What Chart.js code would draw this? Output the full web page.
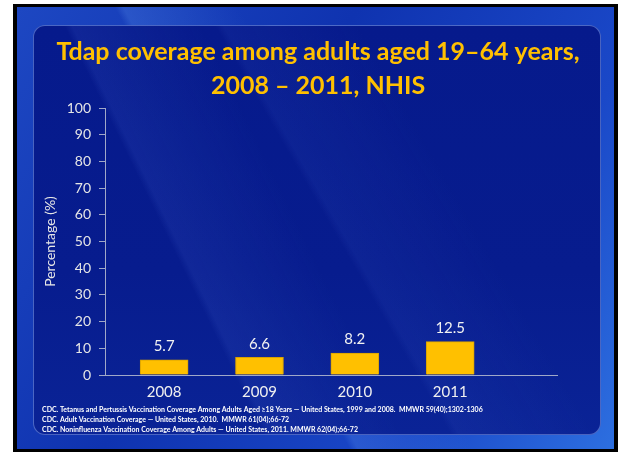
<!DOCTYPE html>
<html>
<head>
<meta charset="utf-8">
<script src="https://cdn.jsdelivr.net/npm/chart.js@4.4.1/dist/chart.umd.min.js"></script>
<style>
  html, body { margin: 0; padding: 0; background: #fff; }
  body { width: 620px; height: 454px; position: relative; overflow: hidden; }
  #frame {
    position: absolute; left: 13px; top: 4px; width: 605px; height: 448px;
    background: #000;
  }
  #slide {
    position: absolute; left: 17px; top: 7px; width: 597px; height: 442px;
    background:
      linear-gradient(62deg, rgba(90,160,255,0.0) 40%, rgba(120,180,255,0.18) 41%, rgba(120,180,255,0.0) 55%),
      linear-gradient(120deg, #1d47c2 0%, #0f33b0 40%, #1a48c8 75%, #2d6fe0 100%);
  }
  #panel {
    position: absolute; left: 33px; top: 25px; width: 568px; height: 410px;
    border-radius: 12px;
    border: 1px solid rgba(130,160,235,0.55);
    box-sizing: border-box;
    background:
      linear-gradient(64deg, rgba(0,0,0,0) 30%, rgba(60,90,200,0.18) 31%, rgba(0,0,0,0) 48%),
      linear-gradient(60deg, rgba(0,0,0,0) 52%, rgba(60,90,200,0.12) 53%, rgba(0,0,0,0) 70%),
      linear-gradient(180deg, #061a8c 0%, #071c8e 60%, #0a2396 100%);
  }
  #wrap { position: absolute; left: 42px; top: 0; width: 552px; height: 454px; }
</style>
</head>
<body>
<div id="frame"></div>
<div id="slide"></div>
<div id="panel"></div>
<div id="wrap"><canvas id="chart" width="552" height="454"></canvas></div>
<script>
// data
const years = ['2008', '2009', '2010', '2011'];
const coverage = [5.7, 6.6, 8.2, 12.5];
const titleLines = ['Tdap coverage among adults aged 19\u201364 years,', '2008 \u2013 2011, NHIS'];
const footnotes = [
  'CDC. Tetanus and Pertussis Vaccination Coverage Among Adults Aged \u226518 Years \u2014 United States, 1999 and 2008.  MMWR 59(40);1302-1306',
  'CDC. Adult Vaccination Coverage \u2014 United States, 2010.  MMWR 61(04);66-72',
  'CDC. Noninfluenza Vaccination Coverage Among Adults \u2014 United States, 2011. MMWR 62(04);66-72'
];

const FONT = 'Lato, "Open Sans", sans-serif';

// value labels above each bar
const barLabels = {
  id: 'barLabels',
  afterDatasetsDraw(chart) {
    const ctx = chart.ctx;
    const meta = chart.getDatasetMeta(0);
    ctx.save();
    ctx.fillStyle = '#f2f2f2';
    ctx.font = '15px ' + FONT;
    ctx.textAlign = 'center';
    ctx.textBaseline = 'bottom';
    meta.data.forEach((bar, i) => {
      ctx.fillText(coverage[i].toFixed(1), bar.x, bar.y - 6);
    });
    ctx.restore();
  }
};

new Chart(document.getElementById('chart'), {
  type: 'bar',
  data: {
    datasets: [{
      data: coverage.map((v, i) => ({ x: i, y: v })),
      backgroundColor: '#ffc000',
      borderColor: '#d9a200',
      borderWidth: 1,
      barThickness: 48
    }]
  },
  options: {
    responsive: false,
    animation: false,
    layout: { padding: 0 },
    plugins: {
      legend: { display: false },
      tooltip: { enabled: false },
      title: {
        display: true,
        text: titleLines,
        color: '#ffc000',
        font: { family: FONT, size: 25, weight: 'bold', lineHeight: '34px' },
        padding: { top: 35, bottom: 5 }
      },
      subtitle: {
        display: true,
        position: 'bottom',
        align: 'start',
        text: footnotes,
        color: '#ffffff',
        font: { family: FONT, size: 7, weight: 'bold', lineHeight: '10px' },
        padding: { top: 0, bottom: 19 }
      }
    },
    scales: {
      x: {
        type: 'linear',
        offset: false,
        min: -0.62,
        max: 4.12,
        grid: { display: false, drawTicks: false },
        border: { display: true, color: '#a0a8c8', width: 1 },
        ticks: {
          padding: 8,
          color: '#f0f0f0',
          font: { family: FONT, size: 15 },
          callback: v => years[v] || ''
        },
        afterBuildTicks: s => { s.ticks = years.map((y, i) => ({ value: i })); },
        afterFit: s => { s.height = 30; s.paddingRight = 37; }
      },
      y: {
        min: 0,
        max: 100,
        grid: { drawOnChartArea: false, color: '#a0a8c8', tickLength: 6 },
        border: { display: true, color: '#a0a8c8', width: 1 },
        ticks: {
          stepSize: 10,
          padding: 8,
          color: '#e6e6e6',
          font: { family: FONT, size: 14 }
        },
        title: {
          display: true,
          text: 'Percentage (%)',
          color: '#e6e6e6',
          font: { family: FONT, size: 14 },
          padding: 0
        },
        afterFit: s => { s.width = 63; }
      }
    }
  },
  plugins: [barLabels]
});
</script>
</body>
</html>
